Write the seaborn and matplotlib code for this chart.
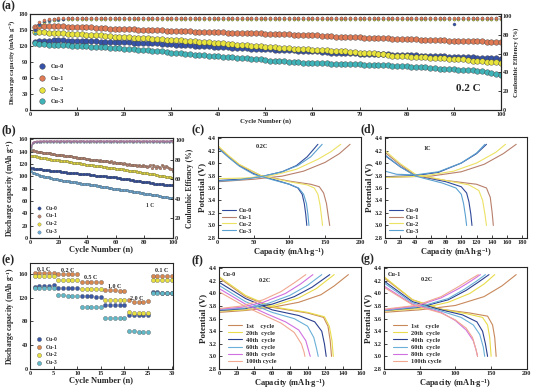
import matplotlib
matplotlib.use("Agg")
import matplotlib.pyplot as plt
import seaborn as sns
import pandas as pd

sns.set_style("ticks")
plt.rcParams['font.family'] = ['Liberation Serif', 'DejaVu Serif']
plt.rcParams['font.weight'] = 'bold'
plt.rcParams['axes.labelweight'] = 'bold'
plt.rcParams['mathtext.fontset'] = 'custom'
plt.rcParams['mathtext.rm'] = 'Liberation Serif:bold'
plt.rcParams['mathtext.default'] = 'rm'

samples = ["Cu-0", "Cu-1", "Cu-2", "Cu-3"]
cycle_labels = ["1st    cycle", "20th  cycle", "40th  cycle", "60th  cycle", "80th  cycle", "100th cycle"]

# ---------------- (a) long cycling at 0.2 C ----------------
cycles_a = list(range(1, 101))
cap_a_cu0 = [127, 129, 130, 130, 131, 131, 131, 130, 130, 130,
             130, 129, 129, 129, 128, 128, 128, 128, 127, 127,
             127, 126, 126, 126, 125, 125, 125, 124, 124, 124,
             123, 123, 122, 122, 121, 121, 120, 120, 119, 119,
             118, 118, 117, 117, 116, 116, 115, 115, 114, 114,
             114, 113, 113, 112, 112, 112, 111, 111, 110, 110,
             110, 109, 109, 108, 108, 108, 107, 107, 107, 106,
             106, 106, 105, 105, 105, 105, 104, 104, 104, 103,
             103, 103, 102, 102, 102, 101, 101, 101, 100, 100,
             100, 99, 99, 99, 98, 98, 98, 97, 97, 96]
cap_a_cu1 = [156, 158, 158, 158, 157, 157, 157, 156, 156, 156,
             155, 155, 155, 154, 154, 154, 153, 153, 153, 152,
             152, 152, 151, 151, 151, 150, 150, 150, 149, 149,
             149, 148, 148, 148, 147, 147, 147, 146, 146, 146,
             146, 145, 145, 145, 145, 144, 144, 144, 144, 143,
             143, 143, 142, 142, 142, 141, 141, 141, 140, 140,
             140, 139, 139, 139, 138, 138, 138, 137, 137, 137,
             136, 136, 136, 135, 135, 135, 134, 134, 134, 133,
             133, 133, 132, 132, 132, 131, 131, 131, 130, 130,
             130, 130, 129, 129, 129, 129, 128, 128, 128, 128]
cap_a_cu2 = [147, 146, 146, 145, 145, 144, 144, 143, 143, 142,
             142, 141, 141, 140, 140, 139, 139, 138, 138, 137,
             137, 136, 136, 135, 135, 134, 133, 133, 132, 132,
             131, 131, 130, 129, 129, 128, 127, 127, 126, 125,
             125, 124, 124, 123, 122, 122, 121, 120, 120, 119,
             118, 118, 117, 117, 116, 115, 115, 114, 114, 113,
             113, 112, 112, 111, 111, 110, 110, 109, 109, 108,
             108, 107, 107, 106, 106, 103, 102, 102, 101, 101,
             100, 100, 99, 99, 98, 98, 97, 97, 96, 96,
             95, 95, 94, 93, 93, 92, 91, 91, 90, 89]
cap_a_cu3 = [125, 124, 124, 123, 123, 122, 122, 122, 121, 121,
             120, 120, 119, 119, 118, 118, 117, 116, 116, 115,
             115, 114, 113, 113, 112, 111, 110, 110, 109, 108,
             107, 107, 106, 105, 104, 104, 103, 102, 102, 101,
             100, 99, 99, 98, 97, 97, 96, 95, 95, 94,
             93, 93, 92, 92, 91, 90, 90, 89, 89, 89,
             88, 88, 88, 87, 87, 87, 87, 86, 86, 86,
             85, 85, 85, 84, 84, 84, 83, 83, 82, 82,
             81, 81, 80, 80, 79, 79, 78, 78, 77, 77,
             76, 76, 75, 75, 74, 73, 72, 70, 68, 66]
ce_a_cu0 = [85.0, 92.0, 94.8, 96.0, 96.6, 97.0, 97.2, 97.4, 97.5, 97.6,
            97.4, 97.7, 97.5, 97.8, 97.6, 97.5, 97.9, 97.6, 97.7, 97.5,
            97.8, 97.6, 97.4, 97.7, 97.9, 97.5, 97.6, 97.8, 97.4, 97.7,
            97.6, 97.9, 97.5, 97.7, 97.6, 97.8, 97.4, 97.7, 97.9, 97.5,
            97.6, 97.8, 97.5, 97.7, 97.4, 97.9, 97.6, 97.7, 97.5, 97.8,
            97.6, 97.4, 97.8, 97.7, 97.5, 97.9, 97.6, 97.4, 97.7, 97.8,
            97.5, 97.6, 97.9, 97.4, 97.7, 97.6, 97.8, 97.5, 97.7, 97.6,
            97.4, 97.8, 97.6, 97.7, 97.5, 97.9, 97.6, 97.8, 97.4, 97.7,
            97.6, 97.5, 97.8, 97.7, 97.4, 97.6, 97.9, 97.5, 97.7, 92.0,
            97.6, 97.8, 97.5, 97.7, 97.4, 97.6, 97.8, 97.5, 97.7, 97.6]
ce_a_cu1 = [88.0, 94.0, 96.0, 96.8, 97.3, 97.6, 97.8, 97.9, 98.0, 98.1,
            98.2, 98.0, 98.3, 98.1, 98.2, 98.4, 98.1, 98.3, 98.0, 98.2,
            98.3, 98.1, 98.2, 98.4, 98.0, 98.2, 98.3, 98.1, 98.2, 98.0,
            98.4, 98.2, 98.1, 98.3, 98.0, 98.2, 98.3, 98.1, 98.4, 98.2,
            98.0, 98.3, 98.2, 98.1, 98.3, 98.4, 98.0, 98.2, 98.1, 98.3,
            98.2, 98.0, 98.3, 98.1, 98.4, 98.2, 98.0, 98.3, 98.2, 98.1,
            98.3, 98.2, 98.0, 98.4, 98.1, 98.2, 98.3, 98.0, 98.2, 98.1,
            98.3, 98.4, 98.1, 98.2, 98.0, 98.3, 98.2, 98.1, 98.3, 98.0,
            98.2, 98.4, 98.1, 98.3, 98.2, 98.0, 98.2, 98.3, 98.1, 98.2,
            98.0, 98.3, 98.2, 98.1, 98.4, 98.2, 98.0, 98.3, 98.1, 98.2]
ce_a_cu2 = [84.0, 91.0, 94.0, 95.5, 96.2, 96.6, 96.8, 97.0, 97.1, 96.9,
            97.1, 97.0, 96.8, 97.2, 96.9, 97.1, 97.0, 96.8, 97.2, 97.0,
            96.9, 97.1, 97.2, 96.8, 97.0, 97.1, 96.9, 97.2, 97.0, 96.8,
            97.1, 97.0, 96.9, 97.2, 97.1, 96.8, 97.0, 97.2, 96.9, 97.1,
            97.0, 96.8, 97.1, 97.2, 96.9, 97.0, 97.1, 96.8, 97.2, 97.0,
            96.9, 97.1, 97.0, 97.2, 96.8, 97.0, 97.1, 96.9, 97.2, 97.0,
            97.1, 96.8, 97.0, 97.2, 96.9, 97.1, 97.0, 96.8, 97.1, 97.2,
            96.9, 97.0, 97.1, 96.8, 97.2, 97.0, 96.9, 97.1, 97.0, 97.2,
            96.8, 97.1, 97.0, 96.9, 97.2, 97.0, 97.1, 96.8, 97.0, 97.1,
            96.9, 97.2, 97.0, 97.1, 96.8, 97.0, 97.2, 96.9, 97.1, 97.0]
ce_a_cu3 = [82.0, 90.0, 93.5, 95.0, 95.8, 96.2, 96.4, 96.5, 96.6, 96.4,
            96.6, 96.5, 96.3, 96.7, 96.4, 96.6, 96.5, 96.3, 96.7, 96.5,
            96.4, 96.6, 96.7, 96.3, 96.5, 96.6, 96.4, 96.7, 96.5, 96.3,
            96.6, 96.5, 96.4, 96.7, 96.6, 96.3, 96.5, 96.7, 96.4, 96.6,
            96.5, 96.3, 96.6, 96.7, 96.4, 96.5, 96.6, 96.3, 96.7, 96.5,
            96.4, 96.6, 96.5, 96.7, 96.3, 96.5, 96.6, 96.4, 96.7, 96.5,
            96.6, 96.3, 96.5, 96.7, 96.4, 96.6, 96.5, 96.3, 96.6, 96.7,
            96.4, 96.5, 96.6, 96.3, 96.7, 96.5, 96.4, 96.6, 96.5, 96.7,
            96.3, 96.6, 96.5, 96.4, 96.7, 96.5, 96.6, 96.3, 96.5, 96.6,
            96.4, 96.7, 96.5, 96.6, 96.3, 96.5, 96.7, 96.4, 96.6, 96.5]

# ---------------- (b) long cycling at 1 C ----------------
cycles_b = list(range(1, 101))
cap_b_cu0 = [113, 113, 112, 112, 112, 111, 111, 111, 110, 110,
             110, 110, 110, 109, 109, 109, 109, 108, 108, 108,
             108, 107, 107, 107, 107, 106, 106, 106, 106, 105,
             105, 105, 105, 104, 104, 104, 104, 103, 103, 103,
             103, 102, 102, 102, 102, 101, 101, 101, 101, 100,
             100, 100, 100, 99, 99, 99, 99, 98, 98, 98,
             97, 97, 97, 96, 96, 96, 95, 95, 95, 94,
             94, 94, 93, 93, 93, 92, 92, 91, 91, 91,
             90, 90, 90, 89, 89, 89, 88, 88, 88, 87,
             87, 87, 87, 86, 86, 86, 85, 85, 85, 85]
cap_b_cu1 = [143, 142, 141, 141, 140, 140, 139, 139, 138, 138,
             138, 137, 137, 137, 136, 136, 136, 135, 135, 135,
             134, 134, 134, 133, 133, 133, 132, 132, 132, 131,
             131, 131, 130, 130, 130, 129, 129, 129, 128, 128,
             128, 127, 127, 127, 126, 126, 126, 125, 126, 125,
             125, 124, 124, 125, 123, 123, 124, 122, 123, 122,
             122, 121, 122, 121, 120, 121, 120, 119, 120, 119,
             119, 118, 119, 118, 117, 118, 117, 116, 118, 116,
             117, 115, 117, 119, 114, 118, 116, 113, 117, 115,
             114, 118, 116, 113, 117, 115, 114, 112, 111, 109]
cap_b_cu2 = [133, 133, 132, 132, 131, 131, 130, 130, 129, 129,
             129, 128, 128, 128, 127, 127, 127, 126, 126, 126,
             125, 125, 125, 124, 124, 124, 123, 123, 123, 122,
             122, 122, 121, 121, 121, 120, 120, 120, 119, 119,
             119, 118, 118, 118, 117, 117, 117, 116, 116, 116,
             115, 115, 115, 114, 114, 114, 113, 113, 113, 112,
             112, 112, 111, 111, 111, 110, 110, 110, 109, 109,
             109, 108, 108, 108, 107, 107, 107, 106, 106, 106,
             105, 105, 104, 104, 104, 103, 103, 102, 102, 101,
             101, 101, 100, 100, 99, 99, 98, 98, 97, 97]
cap_b_cu3 = [108, 106, 105, 104, 103, 102, 101, 100, 100, 99,
             99, 98, 98, 97, 97, 96, 96, 95, 95, 94,
             94, 94, 93, 93, 92, 92, 92, 91, 91, 90,
             90, 90, 89, 89, 89, 88, 88, 88, 87, 87,
             87, 86, 86, 86, 85, 85, 84, 84, 84, 83,
             83, 83, 82, 82, 81, 81, 81, 80, 80, 80,
             79, 79, 78, 78, 78, 77, 77, 77, 76, 76,
             76, 75, 75, 74, 74, 74, 73, 73, 73, 72,
             72, 71, 71, 71, 70, 70, 69, 69, 69, 68,
             68, 67, 67, 67, 66, 66, 65, 65, 64, 64]
ce_b_cu0 = [93.0, 97.0, 97.8, 98.1, 98.3, 98.4, 98.5, 98.4, 98.6, 98.5,
            98.6, 98.4, 98.7, 98.5, 98.6, 98.4, 98.7, 98.5, 98.6, 98.4,
            98.5, 98.7, 98.6, 98.4, 98.5, 98.6, 98.7, 98.5, 98.4, 98.6,
            98.5, 98.7, 98.4, 98.6, 98.5, 98.6, 98.7, 98.4, 98.5, 98.6,
            98.4, 98.6, 98.5, 98.7, 98.5, 98.4, 98.6, 98.5, 98.7, 98.6,
            98.5, 98.4, 98.6, 98.7, 98.5, 98.6, 98.4, 98.5, 98.7, 98.6,
            98.4, 98.5, 98.6, 98.7, 98.5, 98.4, 98.6, 98.5, 98.6, 98.7,
            98.5, 98.4, 98.6, 98.5, 98.7, 98.6, 98.4, 98.5, 98.6, 98.5,
            98.7, 98.4, 98.6, 98.5, 98.6, 98.4, 98.7, 98.5, 98.6, 98.4,
            98.5, 98.6, 98.7, 98.4, 98.5, 98.6, 98.4, 98.7, 98.5, 98.6]
ce_b_cu1 = [94.0, 97.5, 98.2, 98.5, 98.7, 98.8, 98.9, 98.8, 99.0, 98.9,
            98.9, 99.0, 98.8, 99.1, 98.9, 99.0, 98.8, 99.0, 98.9, 99.1,
            98.9, 99.0, 98.8, 99.0, 99.1, 98.9, 99.0, 98.8, 98.9, 99.0,
            99.1, 98.9, 99.0, 98.8, 99.0, 98.9, 99.1, 99.0, 98.8, 98.9,
            99.0, 99.1, 98.9, 99.0, 98.8, 99.0, 98.9, 99.1, 98.9, 99.0,
            98.8, 99.0, 98.9, 99.1, 99.0, 98.8, 98.9, 99.0, 99.1, 98.9,
            99.0, 98.8, 99.0, 98.9, 99.1, 98.9, 99.0, 98.8, 99.0, 98.9,
            99.1, 99.0, 98.8, 98.9, 99.0, 99.1, 98.9, 99.0, 98.6, 99.0,
            98.9, 99.2, 98.7, 99.0, 98.6, 99.1, 98.8, 99.0, 98.5, 99.1,
            98.8, 99.0, 98.7, 99.1, 98.9, 98.6, 99.0, 98.8, 99.1, 98.9]
ce_b_cu2 = [92.0, 96.8, 97.6, 98.0, 98.2, 98.3, 98.4, 98.3, 98.5, 98.4,
            98.5, 98.3, 98.6, 98.4, 98.5, 98.3, 98.6, 98.4, 98.5, 98.3,
            98.4, 98.6, 98.5, 98.3, 98.4, 98.5, 98.6, 98.4, 98.3, 98.5,
            98.4, 98.6, 98.3, 98.5, 98.4, 98.5, 98.6, 98.3, 98.4, 98.5,
            98.3, 98.5, 98.4, 98.6, 98.4, 98.3, 98.5, 98.4, 98.6, 98.5,
            98.4, 98.3, 98.5, 98.6, 98.4, 98.5, 98.3, 98.4, 98.6, 98.5,
            98.3, 98.4, 98.5, 98.6, 98.4, 98.3, 98.5, 98.4, 98.5, 98.6,
            98.4, 98.3, 98.5, 98.4, 98.6, 98.5, 98.3, 98.4, 98.5, 98.4,
            98.6, 98.3, 98.5, 98.4, 98.5, 98.3, 98.6, 98.4, 98.5, 98.3,
            98.4, 98.5, 98.6, 98.3, 98.4, 98.5, 98.3, 98.6, 98.4, 98.5]
ce_b_cu3 = [91.0, 96.5, 97.4, 97.8, 98.0, 98.1, 98.2, 98.1, 98.3, 98.2,
            98.3, 98.1, 98.4, 98.2, 98.3, 98.1, 98.4, 98.2, 98.3, 98.1,
            98.2, 98.4, 98.3, 98.1, 98.2, 98.3, 98.4, 98.2, 98.1, 98.3,
            98.2, 98.4, 98.1, 98.3, 98.2, 98.3, 98.4, 98.1, 98.2, 98.3,
            98.1, 98.3, 98.2, 98.4, 98.2, 98.1, 98.3, 98.2, 98.4, 98.3,
            98.2, 98.1, 98.3, 98.4, 98.2, 98.3, 98.1, 98.2, 98.4, 98.3,
            98.1, 98.2, 98.3, 98.4, 98.2, 98.1, 98.3, 98.2, 98.3, 98.4,
            98.2, 98.1, 98.3, 98.2, 98.4, 98.3, 98.1, 98.2, 98.3, 98.2,
            98.4, 98.1, 98.3, 98.2, 98.3, 98.1, 98.4, 98.2, 98.3, 98.1,
            98.2, 98.3, 98.4, 98.1, 98.2, 98.3, 98.1, 98.4, 98.2, 98.3]

# ---------------- (e) rate capability ----------------
cycles_e = list(range(1, 31))
cap_e_cu0 = [138, 139, 140, 140, 141, 136, 136, 136, 136, 136,
             122, 122, 122, 121, 121, 108, 108, 108, 108, 107,
             91, 90, 90, 90, 90, 129, 129, 128, 128, 128]
cap_e_cu1 = [162, 162, 162, 162, 162, 160, 160, 160, 160, 159,
             147, 147, 147, 146, 146, 133, 133, 133, 132, 132,
             116, 112, 113, 113, 114, 156, 156, 156, 156, 156]
cap_e_cu2 = [156, 156, 156, 156, 156, 150, 150, 150, 150, 150,
             134, 134, 134, 134, 134, 116, 116, 116, 116, 116,
             96, 95, 95, 95, 95, 150, 150, 150, 150, 150]
cap_e_cu3 = [136, 137, 137, 137, 137, 124, 124, 123, 123, 123,
             104, 104, 104, 104, 104, 86, 86, 86, 85, 85,
             64, 64, 63, 63, 63, 127, 127, 127, 127, 127]
rate_labels = ["0.1 C", "0.2 C", "0.5 C", "1.0 C", "2.0 C", "0.1 C"]
rate_label_x = [2.8, 8.1, 12.9, 18.0, 22.6, 27.9]
rate_label_y = [168, 166, 154, 138, 119, 165]

# ---------------- (c) samples at 0.2 C ----------------
c_dis_cap = [[0, 15, 30, 50, 77, 100, 112, 118, 121, 123, 124.5],
             [0, 15, 30, 60, 100, 130, 142, 148, 152, 154.5, 156.5],
             [0, 15, 30, 60, 100, 125, 135, 140, 143, 145, 146.5],
             [0, 15, 30, 50, 77, 100, 113, 120, 124, 126, 127.5]]
c_dis_v = [[4.25, 4.10, 3.96, 3.83, 3.74, 3.66, 3.60, 3.50, 3.35, 3.18, 3.00],
           [4.26, 4.11, 3.97, 3.80, 3.71, 3.66, 3.62, 3.52, 3.35, 3.15, 3.00],
           [4.28, 4.12, 3.98, 3.80, 3.70, 3.65, 3.60, 3.50, 3.33, 3.15, 3.00],
           [4.24, 4.09, 3.95, 3.82, 3.73, 3.66, 3.60, 3.50, 3.35, 3.18, 3.00]]
c_chg_cap = [[0, 30, 60, 90, 110, 125, 140],
             [0, 50, 90, 120, 150, 170, 185],
             [0, 40, 80, 110, 140, 158, 172],
             [0, 30, 60, 90, 112, 130, 146]]
c_chg_v = [[3.72, 3.74, 3.78, 3.86, 3.96, 4.10, 4.30],
           [3.70, 3.74, 3.79, 3.87, 4.01, 4.15, 4.30],
           [3.75, 3.76, 3.81, 3.90, 4.06, 4.18, 4.30],
           [3.71, 3.73, 3.78, 3.86, 3.96, 4.10, 4.30]]

# ---------------- (d) samples at 1 C ----------------
d_dis_cap = [[0, 20, 40, 80, 100, 107, 110, 112.5, 114],
             [0, 20, 40, 80, 120, 133, 138, 140.5, 142],
             [0, 20, 40, 80, 110, 123, 128, 131, 133],
             [0, 20, 40, 75, 93, 100, 103, 105.5, 107]]
d_dis_v = [[4.12, 3.94, 3.80, 3.70, 3.62, 3.52, 3.38, 3.18, 3.00],
           [4.17, 3.97, 3.80, 3.72, 3.66, 3.60, 3.45, 3.20, 3.00],
           [4.20, 3.99, 3.82, 3.72, 3.65, 3.56, 3.40, 3.18, 3.00],
           [4.13, 3.94, 3.79, 3.68, 3.60, 3.50, 3.35, 3.15, 3.00]]
d_chg_cap = [[0, 40, 70, 100, 120, 133],
             [0, 60, 100, 130, 155, 172],
             [0, 50, 90, 120, 145, 158],
             [0, 15, 40, 70, 100, 120, 131]]
d_chg_v = [[3.78, 3.80, 3.85, 4.00, 4.15, 4.30],
           [3.77, 3.79, 3.86, 3.98, 4.15, 4.30],
           [3.77, 3.79, 3.87, 4.00, 4.17, 4.30],
           [3.87, 3.82, 3.81, 3.86, 4.00, 4.16, 4.30]]

# ---------------- (f) Cu-0 selected cycles ----------------
f_dis_cap = [[0, 30, 60, 100, 118, 123, 125.5, 127],
             [0, 30, 60, 100, 119, 124.5, 127.5, 129],
             [0, 30, 60, 90, 108, 116, 119, 121],
             [0, 30, 60, 85, 100, 107, 110, 112],
             [0, 30, 55, 75, 90, 98, 101, 103],
             [0, 30, 50, 70, 85, 93, 96, 97]]
f_dis_v = [[4.25, 3.95, 3.78, 3.69, 3.62, 3.48, 3.25, 3.00],
           [4.27, 3.97, 3.79, 3.70, 3.63, 3.48, 3.25, 3.00],
           [4.18, 3.92, 3.74, 3.65, 3.55, 3.40, 3.20, 3.00],
           [4.13, 3.87, 3.70, 3.60, 3.48, 3.30, 3.13, 3.00],
           [4.08, 3.83, 3.67, 3.55, 3.42, 3.25, 3.10, 3.00],
           [4.03, 3.79, 3.66, 3.53, 3.38, 3.20, 3.07, 3.00]]
f_chg_cap = [[0, 30, 60, 90, 115, 130, 146],
             [0, 30, 60, 90, 110, 130],
             [0, 30, 60, 85, 105, 125],
             [0, 30, 55, 80, 100, 116],
             [0, 25, 50, 75, 92, 106],
             [0, 25, 50, 70, 85, 98]]
f_chg_v = [[3.70, 3.73, 3.78, 3.86, 3.98, 4.12, 4.30],
           [3.72, 3.74, 3.80, 3.93, 4.08, 4.30],
           [3.73, 3.76, 3.83, 3.95, 4.10, 4.30],
           [3.74, 3.77, 3.84, 3.97, 4.13, 4.30],
           [3.75, 3.78, 3.86, 4.00, 4.15, 4.30],
           [3.76, 3.80, 3.90, 4.03, 4.17, 4.30]]

# ---------------- (g) Cu-1 selected cycles ----------------
g_dis_cap = [[0, 40, 80, 120, 145, 152, 155, 157],
             [0, 40, 80, 115, 138, 145, 148, 150],
             [0, 40, 80, 110, 130, 138, 142, 145],
             [0, 40, 80, 108, 125, 134, 139, 141],
             [0, 40, 80, 100, 115, 125, 129, 131],
             [0, 40, 80, 100, 115, 124, 129, 131]]
g_dis_v = [[4.25, 3.90, 3.75, 3.69, 3.64, 3.50, 3.30, 3.00],
           [4.27, 3.90, 3.75, 3.68, 3.62, 3.50, 3.30, 3.00],
           [4.20, 3.87, 3.74, 3.66, 3.55, 3.40, 3.20, 3.00],
           [4.17, 3.85, 3.72, 3.62, 3.50, 3.35, 3.15, 3.00],
           [4.12, 3.83, 3.70, 3.57, 3.42, 3.25, 3.10, 3.00],
           [4.10, 3.82, 3.69, 3.58, 3.45, 3.30, 3.10, 3.00]]
g_chg_cap = [[0, 50, 100, 140, 165, 185],
             [0, 50, 90, 120, 140, 155],
             [0, 50, 90, 115, 132, 147],
             [0, 50, 90, 113, 130, 142],
             [0, 45, 80, 105, 122, 135],
             [0, 45, 80, 103, 120, 132]]
g_chg_v = [[3.70, 3.74, 3.81, 3.95, 4.12, 4.30],
           [3.72, 3.76, 3.86, 4.00, 4.15, 4.30],
           [3.73, 3.78, 3.90, 4.05, 4.18, 4.30],
           [3.73, 3.79, 3.92, 4.07, 4.20, 4.30],
           [3.74, 3.80, 3.93, 4.08, 4.20, 4.30],
           [3.75, 3.81, 3.95, 4.10, 4.22, 4.30]]

# colours
col_a = ["#3552a8", "#e07a55", "#e8e43c", "#3fb3b8"]
col_b = ["#2b4a9c", "#b9826c", "#e8dc3c", "#6aaad8"]
col_ce_b = ["#6f6fa0", "#a87898", "#b0a080", "#70a8b8"]
col_e = ["#3a5aa8", "#d88850", "#e8e040", "#60b8c8"]
col_line = ["#2f4a9a", "#b8806c", "#ece264", "#5aa0d0"]
col_cyc = ["#c8885a", "#e8dc4a", "#2a3f8f", "#6ab0d8", "#d070e0", "#f0a890"]

TICK = 4.5


def style(ax, xlim, xticks, ylim, yticks):
    ax.set_xlim(*xlim)
    ax.set_ylim(*ylim)
    ax.set_xticks(xticks)
    ax.set_yticks(yticks)
    ax.tick_params(direction='in', length=2, width=0.6, labelsize=TICK, pad=1.5)
    for s in ax.spines.values():
        s.set_linewidth(0.8)


fig = plt.figure(figsize=(5.5, 3.92), dpi=100)

# ---- (a)
ax = fig.add_axes([0.0545, 0.719, 0.856, 0.245])
ax2 = ax.twinx()
for vals, col in zip([ce_a_cu3, ce_a_cu2, ce_a_cu0, ce_a_cu1], [col_a[3], col_a[2], col_a[0], col_a[1]]):
    sns.scatterplot(x=cycles_a, y=vals, ax=ax2, color=col, s=5, edgecolor="#555555", linewidth=0.2, legend=False)
for vals, col, lab in zip([cap_a_cu0, cap_a_cu1, cap_a_cu2, cap_a_cu3], col_a, samples):
    sns.scatterplot(x=cycles_a, y=vals, ax=ax, color=col, s=16, edgecolor="#404040", linewidth=0.3, label=lab)
style(ax, (0, 100), range(0, 101, 10), (0, 180), range(0, 181, 30))
style(ax2, (0, 100), range(0, 101, 10), (0, 102), range(0, 101, 20))
ax.set_xlabel("Cycle Number (n)", fontsize=4.8, labelpad=1)
ax.set_ylabel("Discharge capacity (mAh g$^{-1}$)", fontsize=4.8, labelpad=1)
ax2.set_ylabel("Coulombic Effiency (%)", fontsize=4.8, labelpad=1)
ax.legend(loc="lower left", frameon=False, fontsize=4.5, labelspacing=1.0, handletextpad=0.4,
          borderaxespad=0.6, bbox_to_anchor=(0.0, 0.0))
ax.text(93, 40, "0.2 C", fontsize=8, ha="center", va="center", fontweight="bold")

# ---- (b)
ax = fig.add_axes([0.0545, 0.393, 0.26, 0.255])
ax2 = ax.twinx()
for vals, col in zip([ce_b_cu3, ce_b_cu2, ce_b_cu0, ce_b_cu1], [col_ce_b[3], col_ce_b[2], col_ce_b[0], col_ce_b[1]]):
    sns.lineplot(x=cycles_b, y=vals, ax=ax2, color=col, lw=0.6, marker="o", markersize=1.3,
                 markeredgewidth=0, legend=False)
for vals, col, lab in zip([cap_b_cu0, cap_b_cu1, cap_b_cu2, cap_b_cu3], col_b, samples):
    sns.scatterplot(x=cycles_b, y=vals, ax=ax, color=col, s=4, edgecolor="#505050", linewidth=0.2, label=lab)
style(ax, (0, 100), range(0, 101, 20), (0, 162), range(0, 161, 20))
style(ax2, (0, 100), range(0, 101, 20), (0, 102), range(0, 101, 20))
ax.set_xlabel("Cycle Number (n)", fontsize=6, labelpad=1)
ax.set_ylabel("Discharge capacity (mAh g$^{-1}$)", fontsize=5.5, labelpad=1)
ax2.set_ylabel("Coulombic Effiency (%)", fontsize=5.5, labelpad=1)
ax.legend(loc="lower left", frameon=False, fontsize=4, labelspacing=0.5, handletextpad=0.2,
          borderaxespad=0.3, markerscale=1.2)
ax.text(84, 53, "1 C", fontsize=4, ha="center", va="center")


def curve_panel(rect, dis_cap, dis_v, chg_cap, chg_v, colors, labels, xlim, xticks):
    ax = fig.add_axes(rect)
    for dc, dv, cc, cv, col, lab in zip(dis_cap, dis_v, chg_cap, chg_v, colors, labels):
        sns.lineplot(x=dc, y=dv, ax=ax, color=col, lw=0.8, sort=False, estimator=None, label=lab)
        sns.lineplot(x=cc, y=cv, ax=ax, color=col, lw=0.8, sort=False, estimator=None)
    style(ax, xlim, xticks, (2.8, 4.42), [2.8, 3.0, 3.2, 3.4, 3.6, 3.8, 4.0, 4.2, 4.4])
    ax.yaxis.set_major_formatter(matplotlib.ticker.FormatStrFormatter("%.1f"))
    ax.set_xlabel("Capacity (mAh$\\cdot$g$^{-1}$)", fontsize=6, labelpad=1)
    ax.set_ylabel("Potential (V)", fontsize=6.5, labelpad=1)
    return ax


# ---- (c)
ax = curve_panel([0.396, 0.393, 0.26, 0.258], c_dis_cap, c_dis_v, c_chg_cap, c_chg_v, col_line, samples,
                 (0, 200), range(0, 201, 50))
ax.legend(loc="lower left", frameon=False, fontsize=4.5, labelspacing=0.25, handlelength=2.2,
          handletextpad=0.4, borderaxespad=0.3)
ax.text(62, 4.26, "0.2C", fontsize=4.5, ha="center", va="center")

# ---- (d)
ax = curve_panel([0.70, 0.393, 0.258, 0.258], d_dis_cap, d_dis_v, d_chg_cap, d_chg_v, col_line, samples,
                 (0, 186), range(0, 181, 20))
ax.legend(loc="lower left", frameon=False, fontsize=4.5, labelspacing=0.25, handlelength=2.2,
          handletextpad=0.4, borderaxespad=0.3)
ax.text(55, 4.23, "1C", fontsize=4.5, ha="center", va="center")

# ---- (e)
ax = fig.add_axes([0.0545, 0.0587, 0.26, 0.27])
for vals, col, lab in zip([cap_e_cu0, cap_e_cu1, cap_e_cu2, cap_e_cu3], col_e, samples):
    sns.scatterplot(x=cycles_e, y=vals, ax=ax, color=col, s=9, edgecolor="#505050", linewidth=0.25, label=lab)
style(ax, (0, 30.3), range(0, 31, 5), (0, 178), range(0, 161, 40))
ax.set_xlabel("Cycle Number (n)", fontsize=6, labelpad=1)
ax.set_ylabel("Discharge capacity (mAh g$^{-1}$)", fontsize=5.5, labelpad=1)
ax.legend(loc="lower left", frameon=False, fontsize=4, labelspacing=0.5, handletextpad=0.2,
          borderaxespad=0.3)
for t, x, y in zip(rate_labels, rate_label_x, rate_label_y):
    ax.text(x, y, t, fontsize=4.3, ha="center", va="center")

# ---- (f)
ax = curve_panel([0.398, 0.0587, 0.258, 0.26], f_dis_cap, f_dis_v, f_chg_cap, f_chg_v, col_cyc, cycle_labels,
                 (0, 160), range(0, 161, 20))
ax.legend(loc="lower left", frameon=False, fontsize=4.6, labelspacing=0.25, handlelength=2.2,
          handletextpad=0.5, borderaxespad=0.4, bbox_to_anchor=(0.03, 0.0))
ax.text(0.03, 0.95, "Cu-0", transform=ax.transAxes, fontsize=4.5, ha="left", va="top")
ax.text(52, 4.21, "0.2C", fontsize=4.5, ha="center", va="center")

# ---- (g)
ax = curve_panel([0.698, 0.0587, 0.26, 0.26], g_dis_cap, g_dis_v, g_chg_cap, g_chg_v, col_cyc, cycle_labels,
                 (0, 200), range(0, 201, 50))
ax.legend(loc="lower left", frameon=False, fontsize=4.6, labelspacing=0.25, handlelength=2.2,
          handletextpad=0.5, borderaxespad=0.4, bbox_to_anchor=(0.03, 0.0))
ax.text(0.03, 0.95, "Cu-1", transform=ax.transAxes, fontsize=4.5, ha="left", va="top")
ax.text(60, 4.22, "0.2C", fontsize=4.5, ha="center", va="center")

# panel letters
for lab, x, y in [("(a)", 0.003, 0.998), ("(b)", 0.003, 0.683), ("(c)", 0.349, 0.683),
                  ("(d)", 0.655, 0.685), ("(e)", 0.003, 0.352), ("(f)", 0.349, 0.352),
                  ("(g)", 0.655, 0.354)]:
    fig.text(x, y, lab, fontsize=8.5, fontweight="bold", ha="left", va="top")

fig.savefig("out.png", dpi=100)
